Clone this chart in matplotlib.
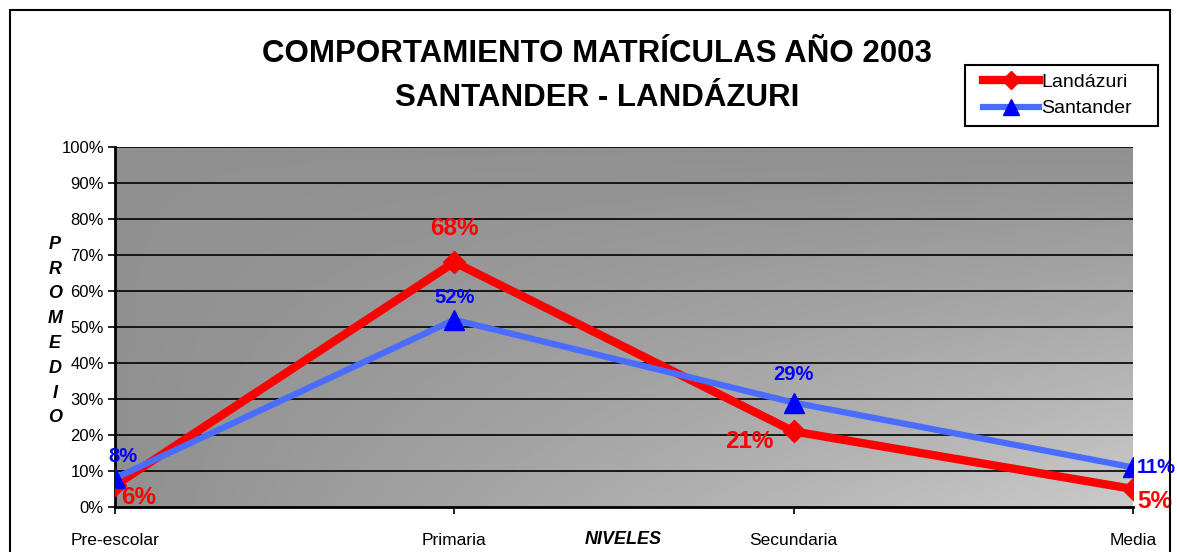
import matplotlib.pyplot as plt
import numpy as np
from matplotlib.patches import Rectangle

plt.rcParams['font.family'] = ['Liberation Sans', 'DejaVu Sans']

niveles = ['Pre-escolar', 'Primaria', 'Secundaria', 'Media']
landazuri = [6, 68, 21, 5]
santander = [8, 52, 29, 11]
y_ticks = list(range(0, 101, 10))

fig = plt.figure(figsize=(11.77, 5.52), dpi=100)
ax = fig.add_axes([115 / 1177, 45 / 552, 1018 / 1177, 360 / 552])

x = np.arange(len(niveles))

# fondo degradado gris
gx = np.linspace(0, 1, 300)
gy = np.linspace(0, 1, 200)
GX, GY = np.meshgrid(gx, gy)
val = (144 + 58 * GX * GY) / 255.0
ax.imshow(val, cmap='gray', vmin=0, vmax=1, extent=[0, 3, 0, 100],
          origin='upper', aspect='auto', zorder=0)

for t in y_ticks[1:]:
    ax.axhline(t, color='black', lw=1.2, zorder=1)

ax.plot(x, landazuri, color='#ff0000', lw=6, marker='D', ms=11,
        mfc='#ff0000', mec='#ff0000', zorder=3, label='Landázuri')
ax.plot(x, santander, color='#4a6cff', lw=4.5, marker='^', ms=14,
        mfc='#0000ff', mec='#0000ff', zorder=4, label='Santander')

red_off = [(24, -12), (0, 34), (-44, -10), (22, -12)]
blue_off = [(8, 22), (0, 22), (0, 28), (23, 0)]
for i in range(len(niveles)):
    ax.annotate(f'{landazuri[i]}%', (x[i], landazuri[i]), xytext=red_off[i],
                textcoords='offset pixels', ha='center', va='center',
                color='#ff0000', fontsize=17.5, fontweight='bold', zorder=6,
                annotation_clip=False)
    ax.annotate(f'{santander[i]}%', (x[i], santander[i]), xytext=blue_off[i],
                textcoords='offset pixels', ha='center', va='center',
                color='#0000ff', fontsize=14.5, fontweight='bold', zorder=6,
                annotation_clip=False)

ax.set_xlim(0, 3)
ax.set_ylim(0, 100)
ax.set_yticks(y_ticks)
ax.set_yticklabels([f'{t}%' for t in y_ticks], fontsize=12)
ax.set_xticks(x)
ax.set_xticklabels(niveles, fontsize=12.5)
ax.tick_params(axis='x', length=5, width=1.2, pad=14)
ax.tick_params(axis='y', length=5, width=1.2, pad=3)
for s in ['left', 'bottom']:
    ax.spines[s].set_linewidth(2)
for s in ['top', 'right']:
    ax.spines[s].set_visible(False)

fig.text(597 / 1177, 1 - 54 / 552, 'COMPORTAMIENTO MATRÍCULAS AÑO 2003',
         ha='center', va='center', fontsize=22.5, fontweight='bold')
fig.text(597 / 1177, 1 - 98 / 552, 'SANTANDER - LANDÁZURI',
         ha='center', va='center', fontsize=22.5, fontweight='bold')

fig.text(55 / 1177, 1 - 331 / 552, 'P\nR\nO\nM\nE\nD\nI\nO', ha='center',
         va='center', fontsize=13, fontweight='bold', fontstyle='italic',
         linespacing=1.6)
fig.text(623 / 1177, 1 - 540 / 552, 'NIVELES', ha='center', va='center',
         fontsize=13, fontweight='bold', fontstyle='italic')

# marco de la leyenda
fig.patches.append(Rectangle((965 / 1177, 1 - 126 / 552), 193 / 1177, 61 / 552,
                             transform=fig.transFigure, fill=False,
                             edgecolor='black', lw=1.5))
fig.legend(loc='center left', bbox_to_anchor=(983 / 1177, 1 - 95.5 / 552),
           fontsize=14, frameon=False, handlelength=2.9, handletextpad=0.1,
           borderpad=0, labelspacing=0.45, borderaxespad=0, markerscale=0.85)

fig.patches.append(Rectangle((10 / 1177, -0.2), 1160 / 1177, 1.2 - 10 / 552,
                             transform=fig.transFigure, fill=False,
                             edgecolor='black', lw=1.5))

fig.savefig('out.png', dpi=100)
